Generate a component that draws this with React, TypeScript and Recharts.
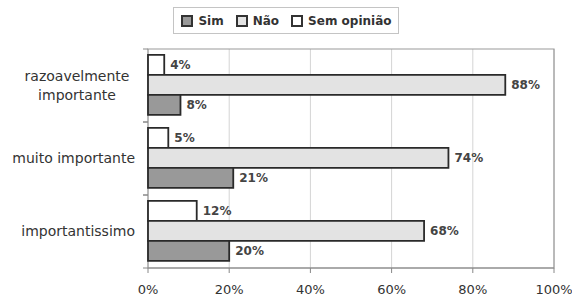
import React from 'react';
import { BarChart, Bar, XAxis, YAxis, CartesianGrid, Legend, LabelList, ReferenceArea } from 'recharts';

const categories = ['razoavelmente importante', 'muito importante', 'importantissimo'];
const sim = [8, 21, 20];
const nao = [88, 74, 68];
const semOpiniao = [4, 5, 12];
const xTicks = [0, 20, 40, 60, 80, 100];

const seriesInfo = [
  { key: 'semOpiniao', name: 'Sem opinião', fill: '#ffffff' },
  { key: 'nao', name: 'Não', fill: '#e3e3e3' },
  { key: 'sim', name: 'Sim', fill: '#999999' },
];
const legendOrder = ['sim', 'nao', 'semOpiniao'];

const data = categories.map((c, i) => ({
  category: c,
  sim: sim[i],
  nao: nao[i],
  semOpiniao: semOpiniao[i],
}));

const FONT = "'DejaVu Sans', Arial, sans-serif";

function wrapLabel(s: string, maxChars: number): string[] {
  if (s.length <= maxChars) return [s];
  const words = s.split(' ');
  const lines: string[] = [];
  let cur = '';
  for (const w of words) {
    if (cur && (cur + ' ' + w).length > maxChars) {
      lines.push(cur);
      cur = w;
    } else {
      cur = cur ? cur + ' ' + w : w;
    }
  }
  if (cur) lines.push(cur);
  return lines;
}

const YTick = (props: any) => {
  const { x, y, payload } = props;
  const lines = wrapLabel(String(payload.value), 18);
  const half = payload.offset || 36;
  const lineH = 19;
  const startY = y - ((lines.length - 1) * lineH) / 2;
  const maxLen = Math.max(...lines.map((l) => l.length));
  const estW = maxLen * 8;
  return (
    <g>
      <line x1={x + 8} x2={x + 13} y1={y - half} y2={y - half} stroke="#888" />
      <line x1={x + 8} x2={x + 13} y1={y + half} y2={y + half} stroke="#888" />
      {lines.length === 1 ? (
        <text x={x} y={y} dy="0.35em" textAnchor="end" fontSize={14} fill="#333" fontFamily={FONT}>
          {lines[0]}
        </text>
      ) : (
        lines.map((l, i) => (
          <text
            key={i}
            x={x - estW / 2 - 6}
            y={startY + i * lineH}
            dy="0.35em"
            textAnchor="middle"
            fontSize={14}
            fill="#333"
            fontFamily={FONT}
          >
            {l}
          </text>
        ))
      )}
    </g>
  );
};

const LegendContent = () => (
  <div style={{ height: 42, display: 'flex', justifyContent: 'center' }}>
    <div
      style={{
        height: 27,
        boxSizing: 'border-box',
        border: '1px solid #c4c4c4',
        display: 'flex',
        alignItems: 'center',
        padding: '0 6px 0 7px',
        fontFamily: FONT,
        fontSize: 12,
        fontWeight: 'bold',
        color: '#333',
        background: '#fff',
      }}
    >
      {legendOrder.map((k, i) => {
        const s = seriesInfo.find((x) => x.key === k)!;
        return (
          <div key={k} style={{ display: 'flex', alignItems: 'center', marginLeft: i === 0 ? 0 : 12 }}>
            <span
              style={{
                width: 12,
                height: 12,
                boxSizing: 'border-box',
                border: '2px solid #333',
                background: s.fill,
                display: 'inline-block',
                marginRight: 5,
              }}
            />
            <span>{s.name}</span>
          </div>
        );
      })}
    </div>
  </div>
);

export default function App() {
  return (
    <div style={{ position: 'absolute', left: 0, top: 0, background: '#fff' }}>
      <BarChart
        width={572}
        height={298}
        data={data}
        layout="vertical"
        margin={{ top: 7, right: 18, bottom: 0, left: 0 }}
        barCategoryGap="8%"
        barGap={0}
      >
        <CartesianGrid horizontal={false} stroke="#d4d4d4" />
        <ReferenceArea x1={0} x2={100} fill="none" stroke="#9a9a9a" strokeWidth={1.2} ifOverflow="visible" />
        <XAxis
          type="number"
          domain={[0, 100]}
          ticks={xTicks}
          tickFormatter={(v: number) => `${v}%`}
          axisLine={{ stroke: '#888' }}
          tickLine={{ stroke: '#888' }}
          tickSize={5}
          tickMargin={12}
          height={30}
          tick={{ fontSize: 13, fill: '#333', fontFamily: FONT }}
          interval={0}
        />
        <YAxis
          type="category"
          dataKey="category"
          width={148}
          axisLine={false}
          tickLine={false}
          tickSize={0}
          tickMargin={13}
          tick={<YTick />}
          interval={0}
        />
        <Legend verticalAlign="top" wrapperStyle={{ top: 7, left: 0, width: 572 }} content={<LegendContent />} />
        {seriesInfo.map((s) => (
          <Bar
            key={s.key}
            dataKey={s.key}
            name={s.name}
            fill={s.fill}
            stroke="#2a2a2a"
            strokeWidth={1.8}
            isAnimationActive={false}
          >
            <LabelList
              dataKey={s.key}
              position="right"
              offset={6}
              formatter={(v: any) => `${v}%`}
              style={{ fontSize: 12, fontWeight: 'bold', fill: '#444', fontFamily: FONT }}
            />
          </Bar>
        ))}
      </BarChart>
    </div>
  );
}
